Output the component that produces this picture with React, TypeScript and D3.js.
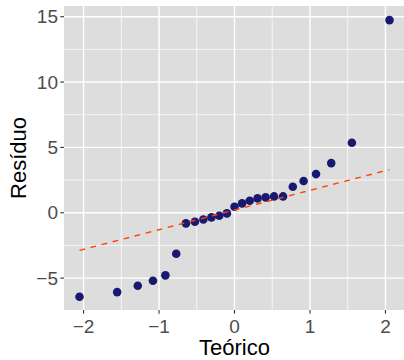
import React from "react";
import * as d3 from "d3";

const theoretical = [
  -2.0537, -1.5548, -1.2816, -1.0803, -0.9154, -0.7722, -0.6433, -0.5244, -0.4125,
  -0.3055, -0.2019, -0.1004, 0, 0.1004, 0.2019, 0.3055, 0.4125, 0.5244, 0.6433,
  0.7722, 0.9154, 1.0803, 1.2816, 1.5548, 2.0537,
];
const residuals = [
  -6.43, -6.07, -5.58, -5.2, -4.79, -3.14, -0.81, -0.69, -0.51, -0.35, -0.23, -0.05,
  0.46, 0.72, 0.92, 1.1, 1.18, 1.25, 1.25, 1.99, 2.43, 2.96, 3.8, 5.36, 14.74,
];
const refLineX = [-2.0537, 2.0537];
const refLineY = [-2.88, 3.3];
const xTicks = [-2, -1, 0, 1, 2];
const xMinor = [-1.5, -0.5, 0.5, 1.5];
const yTicks = [-5, 0, 5, 10, 15];
const yMinor = [-2.5, 2.5, 7.5, 12.5];
const xTitle = "Teórico";
const yTitle = "Resíduo";

const W = 404;
const H = 360;
const left = 64;
const right = 405;
const top = 6;
const bottom = 310;

const fmt = (v: number) => (v < 0 ? "\u2212" + Math.abs(v) : String(v));

export default function App() {
  const x = d3.scaleLinear().domain([-2.259, 2.259]).range([left, right]);
  const y = d3.scaleLinear().domain([-7.44, 15.82]).range([bottom, top]);
  const line = d3
    .line<number>()
    .x((d) => x(d))
    .y((_, i) => y(refLineY[i]));
  const font = "'Liberation Sans', Arial, sans-serif";
  return (
    <svg
      width={W}
      height={H}
      style={{ position: "absolute", left: 0, top: 0, display: "block" }}
      fontFamily={font}
    >
      <rect x={0} y={0} width={W} height={H} fill="#ffffff" />
      <defs>
        <clipPath id="panel">
          <rect x={left} y={top} width={right - left} height={bottom - top} />
        </clipPath>
      </defs>
      <rect x={left} y={top} width={right - left} height={bottom - top} fill="#DDDDDD" />
      <g clipPath="url(#panel)">
        {xMinor.map((v) => (
          <line key={"xm" + v} x1={x(v)} x2={x(v)} y1={top} y2={bottom} stroke="#fff" strokeWidth={0.7} />
        ))}
        {yMinor.map((v) => (
          <line key={"ym" + v} y1={y(v)} y2={y(v)} x1={left} x2={right} stroke="#fff" strokeWidth={0.7} />
        ))}
        {xTicks.map((v) => (
          <line key={"xg" + v} x1={x(v)} x2={x(v)} y1={top} y2={bottom} stroke="#fff" strokeWidth={1.4} />
        ))}
        {yTicks.map((v) => (
          <line key={"yg" + v} y1={y(v)} y2={y(v)} x1={left} x2={right} stroke="#fff" strokeWidth={1.4} />
        ))}
        {theoretical.map((t, i) => (
          <circle key={"p" + i} cx={x(t)} cy={y(residuals[i])} r={4.3} fill="#191970" />
        ))}
        <path
          d={line(refLineX) || ""}
          fill="none"
          stroke="#FF4500"
          strokeWidth={1.4}
          strokeDasharray="5.7,5.7"
        />
      </g>
      {xTicks.map((v) => (
        <g key={"xt" + v}>
          <line x1={x(v)} x2={x(v)} y1={bottom} y2={bottom + 3.7} stroke="#333" strokeWidth={1.1} />
          <text x={x(v)} y={bottom + 23} textAnchor="middle" fontSize={19} fill="#4D4D4D">
            {fmt(v)}
          </text>
        </g>
      ))}
      {yTicks.map((v) => (
        <g key={"yt" + v}>
          <line x1={left - 3.7} x2={left} y1={y(v)} y2={y(v)} stroke="#333" strokeWidth={1.1} />
          <text x={left - 6} y={y(v)} dy="0.35em" textAnchor="end" fontSize={19} fill="#4D4D4D">
            {fmt(v)}
          </text>
        </g>
      ))}
      <text x={(left + right) / 2} y={355} textAnchor="middle" fontSize={22} fill="#000">
        {xTitle}
      </text>
      <text
        transform={`translate(${26},${(top + bottom) / 2}) rotate(-90)`}
        textAnchor="middle"
        fontSize={22}
        fill="#000"
      >
        {yTitle}
      </text>
    </svg>
  );
}
